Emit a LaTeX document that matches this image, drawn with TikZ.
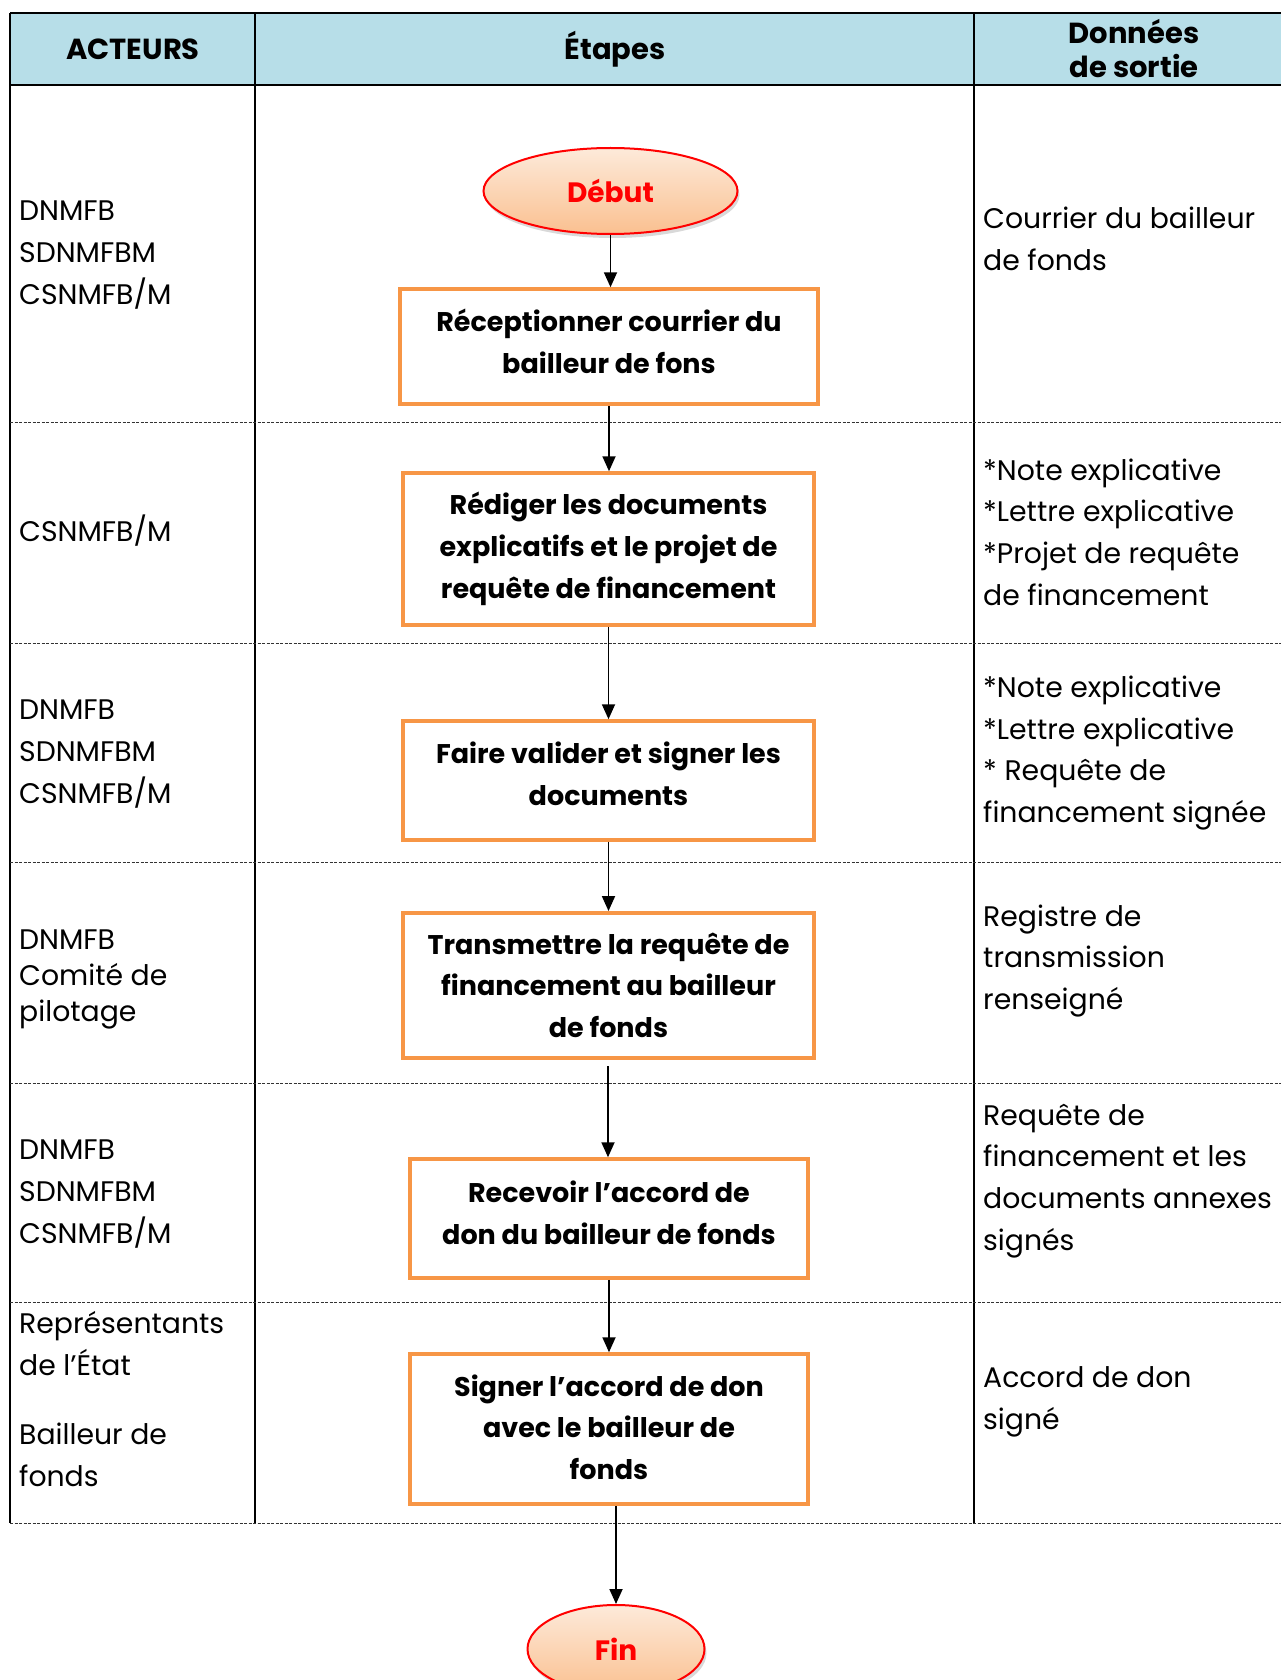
\documentclass[tikz,border=0pt]{standalone}
\usepackage{fontspec}
\setmainfont{Poppins}
\usetikzlibrary{arrows.meta,shapes.geometric,shadows,calc}
\definecolor{headblue}{HTML}{B7DEE8}
\definecolor{boxorange}{HTML}{F79646}
\definecolor{peachtop}{HTML}{FDEADA}
\definecolor{peachbot}{HTML}{FAC090}
% extra depth on a last line lifts the text inside its box
\newcommand{\liftby}[1]{\rule[-#1]{0pt}{1pt}}
\begin{document}
\begin{tikzpicture}[x=1pt,y=-1pt,
  rule/.style={line width=2pt},
  rowsep/.style={line width=0.8pt, dash pattern=on 3pt off 1.5pt, black!80},
  headtext/.style={font=\fontsize{29}{33}\selectfont\bfseries, align=center, inner sep=0},
  celltext/.style={font=\fontsize{28.3}{41.7}\selectfont, align=left, anchor=west, inner sep=0},
  stepbox/.style={draw=boxorange, line width=3.5pt, align=center,
    font=\fontsize{27}{41.7}\selectfont\bfseries, inner sep=0},
  terminal/.style={ellipse, draw=red, line width=2pt, top color=peachtop, bottom color=peachbot,
    drop shadow={opacity=0.3, shadow xshift=2pt, shadow yshift=-4pt},
    text=red, font=\fontsize{28}{30}\selectfont\bfseries, inner sep=0},
  flow/.style={line width=1.8pt, -{Triangle[length=15pt,width=13pt]}}
]
\useasboundingbox (0,0) rectangle (1281,1680);

% header band
\fill[headblue] (10,13) rectangle (1281,85);
\draw[rule] (10,13) -- (1281,13);
\draw[rule] (10,85) -- (1281,85);
\foreach \xx in {10,255,974} \draw[rule] (\xx,13) -- (\xx,1523);
\foreach \yy in {422,643,862,1083,1302,1523} \draw[rowsep] (10,\yy) -- (1281,\yy);

\node[headtext] (hact) at (133,49) {ACTEURS};
\node[headtext] (heta) at (615,49) {Étapes};
\node[headtext, font=\fontsize{29}{34}\selectfont\bfseries] (hdon) at (1134,49) {Données\\de sortie};

% actors
\node[celltext] (a1) at (19,255) {DNMFB\\SDNMFBM\\CSNMFB/M};
\node[celltext] (a2) at (19,531) {CSNMFB/M};
\node[celltext] (a3) at (19,754) {DNMFB\\SDNMFBM\\CSNMFB/M};
\node[celltext, font=\fontsize{28.3}{36}\selectfont] (a4) at (19,979) {DNMFB\\Comité de\\pilotage};
\node[celltext] (a5) at (19,1194) {DNMFB\\SDNMFBM\\CSNMFB/M};
\node[celltext] (a6) at (19,1399) {Représentants\\de l’État\\[27pt]Bailleur de\\fonds};

% outputs
\node[celltext] (o1) at (983,239) {Courrier du bailleur\\de fonds};
\node[celltext] (o2) at (983,532) {*Note explicative\\*Lettre explicative\\*Projet de requête\\de financement};
\node[celltext] (o3) at (983,753) {*Note explicative\\*Lettre explicative\\* Requête de\\financement signée};
\node[celltext] (o4) at (983,961) {Registre de\\transmission\\renseigné};
\node[celltext] (o5) at (983,1181) {Requête de\\financement et les\\documents annexes\\signés};
\node[celltext] (o6) at (983,1402) {Accord de don\\signé};

% steps
\node[terminal, minimum width=254pt, minimum height=86pt] (deb) at (610.5,191) {Début};
\node[stepbox, minimum width=418pt, minimum height=115pt] (b1) at (609,346.5) {Réceptionner courrier du\\bailleur de fons\liftby{11pt}};
\node[stepbox, minimum width=411pt, minimum height=152pt] (b2) at (608.5,549) {Rédiger les documents\\explicatifs et le projet de\\requête de financement};
\node[stepbox, minimum width=411pt, minimum height=119pt] (b3) at (608.5,780.5) {Faire valider et signer les\\documents\liftby{14pt}};
\node[stepbox, minimum width=411pt, minimum height=145pt] (b4) at (608.5,985.3) {Transmettre la requête de\\financement au bailleur\\de fonds};
\node[stepbox, minimum width=398pt, minimum height=119pt] (b5) at (609,1218.5) {Recevoir l’accord de\\don du bailleur de fonds\liftby{12pt}};
\node[stepbox, minimum width=398pt, minimum height=150pt] (b6) at (609,1429) {Signer l’accord de don\\avec le bailleur de\\fonds\liftby{4pt}};
\node[terminal, minimum width=177pt, minimum height=88pt] (fin) at (616,1649) {Fin};

% connectors
\coordinate (b4out) at (608,1066);
\draw[flow] (deb.south) -- (deb.south |- b1.north);
\draw[flow] (b1.south) -- (b1.south |- b2.north);
\draw[flow] (b2.south) -- (b2.south |- b3.north);
\draw[flow] (b3.south) -- (b3.south |- b4.north);
\draw[flow] (b4out) -- (b4out |- b5.north);
\draw[flow] (b5.south) -- (b5.south |- b6.north);
\draw[flow] (fin.north |- b6.south) -- (fin.north);
\end{tikzpicture}
\end{document}
